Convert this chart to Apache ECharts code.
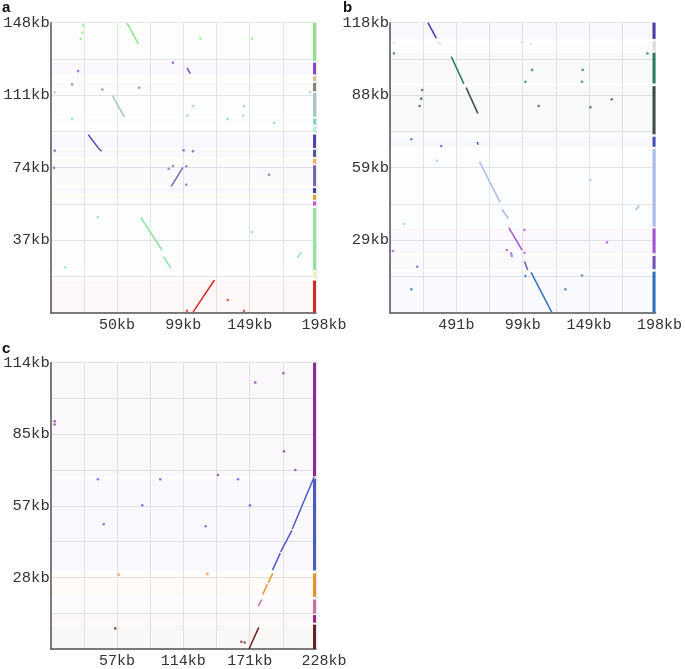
<!DOCTYPE html>
<html>
<head>
<meta charset="utf-8">
<script src="https://cdn.jsdelivr.net/npm/echarts@6/dist/echarts.min.js"></script>
<style>
html, body { margin: 0; padding: 0; background: #fff; }
#main { width: 685px; height: 669px; }
</style>
</head>
<body>
<div id="main"></div>
<script>
// ---- panel a ----
var aXMax = 198, aYMax = 148;
var aXLabels = ['50kb', '99kb', '149kb', '198kb'];
var aYLabels = ['37kb', '74kb', '111kb', '148kb'];
// query contigs on y axis [start, end] in kb, top to bottom
var aContigs = [[128.4, 148], [121.6, 127.6], [118.2, 120.7], [113, 117.3], [100, 112.2], [96, 99],
  [91.8, 95.1], [84.1, 90.9], [79.5, 83.2], [76, 78.6], [64.5, 75.2], [61.1, 63.6], [57.6, 60.2],
  [54.7, 56.8], [21.8, 53.4], [17.6, 21], [0, 16.4]];
var aColors = ['#8fe38c', '#8544c9', '#d9bf95', '#8c8275', '#abc3c9', '#84d0c6', '#bdeedc', '#5b3db5',
  '#4f5f93', '#e8b566', '#7a66b3', '#3b3db5', '#e2a33e', '#c255c6', '#90e3a0', '#eef0c2', '#d42a2a'];
// matches [x1, y1, x2, y2]
var aSegs = [[57, 147.7, 65.6, 137], [101.7, 125, 104.2, 122], [46, 110.8, 55, 100], [28, 90.9, 35.5, 84.1],
  [35.5, 84.1, 38, 82.4], [90, 64.5, 98.7, 74.2], [67.2, 48.6, 83, 32], [84.2, 28.6, 89.7, 22.7],
  [184.2, 28.1, 187.2, 30.9], [106.2, 0.3, 122.2, 16.7]];
var aDots = [[24.2, 146.5], [23.7, 142.9], [22.5, 139.8], [111.7, 140], [150.4, 139.8], [91.2, 127.6],
  [20.5, 123.3], [16, 116.5], [38.5, 113.9], [66, 114.8], [3, 112.5], [193.5, 112.5], [106.2, 105.4],
  [144.2, 105.4], [102, 100.6], [143.7, 100.6], [16, 98.9], [132, 98.9], [166.7, 96.9], [3, 82.7],
  [99.2, 82.9], [106.2, 82.4], [2.5, 73.9], [88, 73.5], [91.2, 74.9], [101.2, 74.7], [101.2, 65.3],
  [163, 70.4], [35, 48.8], [150.4, 41.1], [11, 23.2], [132.2, 6.5], [101.7, 1], [144.2, 1]];

// ---- panel b ----
var bXMax = 198, bYMax = 118;
var bXLabels = ['491b', '99kb', '149kb', '198kb'];
var bYLabels = ['29kb', '59kb', '88kb', '118kb'];
var bContigs = [[111.4, 118], [106.6, 110.5], [93.3, 105.8], [72.6, 92.2], [67.5, 71.6], [35, 66.5],
  [24.2, 34.3], [17.7, 23.1], [0, 16.7]];
var bColors = ['#4b3aa9', '#dedede', '#2c7b5c', '#3f4b4b', '#4452b3', '#aabbea', '#a452d9', '#7252b3', '#3272ba'];
var bSegs = [[28.3, 118, 34.5, 111.7], [35.2, 110.3, 38.2, 108.9], [45.7, 104.2, 55.1, 93.1],
  [56.8, 91.6, 65.5, 81.1], [65, 69.5, 65.8, 68.3], [66.8, 61.4, 82.1, 44.9], [83.6, 42, 88.3, 38.4],
  [88.6, 34.6, 98.5, 25.5], [100.3, 20.8, 102.7, 17.4], [105.2, 16.4, 120.6, 0.2], [183.3, 41.8, 185.8, 43.8]];
var bDots = [[3, 105.5], [192, 105.5], [3, 109.9], [98.5, 109.9], [105.2, 109.3], [106, 98.8], [143.7, 98.8],
  [101, 94], [143.2, 94], [24, 90.6], [23.3, 87.1], [22.1, 84.1], [110.9, 84.1], [149.4, 83.6], [165.3, 86.8],
  [15.9, 70.6], [38.2, 67.8], [35, 61.8], [149.4, 54], [10.4, 36.1], [100.3, 33.7], [161.8, 28.6],
  [2.2, 25.1], [87.1, 25.5], [90.3, 24.2], [90.8, 23.2], [100.3, 24.4], [20.3, 18.7], [143.2, 15.1],
  [101, 14.9], [15.9, 9.5], [130.8, 9.5]];

// ---- panel c ----
var cXMax = 228, cYMax = 114;
var cXLabels = ['57kb', '114kb', '171kb', '228kb'];
var cYLabels = ['28kb', '57kb', '85kb', '114kb'];
var cContigs = [[68.8, 114], [31.3, 67.7], [20.7, 30.1], [14.1, 19.7], [10.5, 13.5], [0, 9.7]];
var cColors = ['#8b2b9b', '#5159c2', '#e3922c', '#c472a3', '#a3238a', '#6b2222'];
var cSegs = [[226.5, 68.6, 207.6, 47.8], [207.3, 47.2, 197.6, 38.7], [197.3, 38.2, 190.6, 31.4],
  [190.8, 30.1, 187, 26.3], [186.2, 25.8, 182.2, 21.7], [181.3, 19.7, 178.4, 17.1], [178.8, 8.6, 170.4, 0]];
var cDots = [[199.9, 109.8], [175.8, 106.1], [3.4, 90.7], [3.4, 89.4], [200.5, 78.7], [210.2, 71.3],
  [143.8, 69.3], [40.6, 67.6], [94.2, 67.6], [161, 67.6], [78.7, 57.2], [171.3, 57.2], [45.5, 49.7],
  [133.2, 48.9], [58.4, 29.6], [134.6, 29.9], [55.5, 8.2], [163.8, 2.9], [166.7, 2.6]];

var chart = echarts.init(document.getElementById('main'), null, { renderer: 'canvas' });
var FONT = 'Liberation Mono';

// colour of the contig a y value falls in (nearest one for gaps)
function contigColor(y, contigs, colors) {
  var best = 0, bestD = Infinity;
  for (var i = 0; i < contigs.length; i++) {
    var d = y < contigs[i][0] ? contigs[i][0] - y : (y > contigs[i][1] ? y - contigs[i][1] : 0);
    if (d < bestD) { bestD = d; best = i; }
  }
  return colors[best];
}

function renderContig(params, api) {
  var cs = params.coordSys;
  var top = api.coord([0, api.value(1)])[1];
  var bot = api.coord([0, api.value(0)])[1];
  var color = api.visual('color');
  return {
    type: 'group',
    children: [
      { type: 'rect', shape: { x: cs.x, y: top, width: cs.width, height: bot - top }, style: { fill: color, opacity: 0.035 } },
      { type: 'rect', shape: { x: cs.x + cs.width - 3, y: top, width: 3, height: bot - top }, style: { fill: color } }
    ]
  };
}

var grids = [], xAxes = [], yAxes = [], series = [];

function panel(i, box, xMax, yMax, xLabels, yLabels, contigs, colors, segs, dots, lastShift) {
  grids.push({ left: box[0], top: box[1], width: box[2], height: box[3], containLabel: false });
  xAxes.push({
    type: 'value', gridIndex: i, min: 0, max: xMax, interval: xMax / 8,
    axisLine: { show: true, onZero: false, lineStyle: { color: '#555', width: 1.5 } },
    axisTick: { show: false },
    splitLine: { show: true, lineStyle: { color: '#e6e6e6', width: 1 } },
    axisLabel: {
      show: true, margin: 5, showMaxLabel: true, showMinLabel: true,
      fontFamily: FONT, fontSize: 15, color: '#333',
      formatter: function (v) {
        var q = v / (xMax / 4);
        if (q < 0.5 || Math.abs(q - Math.round(q)) > 1e-6) return '';
        q = Math.round(q);
        return q === 4 ? '{last|' + xLabels[3] + '}' : xLabels[q - 1];
      },
      rich: { last: { fontFamily: FONT, fontSize: 15, color: '#333', padding: [0, 0, 0, lastShift * 2] } }
    }
  });
  yAxes.push({
    type: 'value', gridIndex: i, min: 0, max: yMax, interval: yMax / 8,
    axisLine: { show: true, onZero: false, lineStyle: { color: '#555', width: 1.5 } },
    axisTick: { show: false },
    splitLine: { show: true, lineStyle: { color: '#e6e6e6', width: 1 } },
    axisLabel: {
      show: true, margin: 1, showMaxLabel: true,
      fontFamily: FONT, fontSize: 15.5, color: '#333',
      formatter: function (v) {
        var q = v / (yMax / 4);
        if (q < 0.5 || Math.abs(q - Math.round(q)) > 1e-6) return '';
        return yLabels[Math.round(q) - 1];
      }
    }
  });
  series.push({
    type: 'custom', xAxisIndex: i, yAxisIndex: i, silent: true, z: 1,
    renderItem: renderContig,
    data: contigs.map(function (c, k) { return { value: c, itemStyle: { color: colors[k] } }; })
  });
  series.push({
    type: 'lines', coordinateSystem: 'cartesian2d', xAxisIndex: i, yAxisIndex: i, silent: true, z: 3,
    lineStyle: { width: 1.5, opacity: 1 },
    data: segs.map(function (s) {
      return { coords: [[s[0], s[1]], [s[2], s[3]]], lineStyle: { color: contigColor((s[1] + s[3]) / 2, contigs, colors) } };
    })
  });
  series.push({
    type: 'scatter', xAxisIndex: i, yAxisIndex: i, silent: true, z: 3,
    symbolSize: 2.6,
    data: dots.map(function (d) {
      return { value: d, itemStyle: { color: contigColor(d[1], contigs, colors), opacity: 0.75 } };
    })
  });
}

panel(0, [50.7, 22.7, 265.3, 290], aXMax, aYMax, aXLabels, aYLabels, aContigs, aColors, aSegs, aDots, 8);
panel(1, [390, 22.7, 266, 290], bXMax, bYMax, bXLabels, bYLabels, bContigs, bColors, bSegs, bDots, 4);
panel(2, [50.7, 362.7, 265.3, 289], cXMax, cYMax, cXLabels, cYLabels, cContigs, cColors, cSegs, cDots, 8);

var letterStyle = { fontFamily: 'Liberation Sans', fontSize: 15, fontWeight: 'bold', fill: '#111' };
chart.setOption({
  backgroundColor: '#fff',
  animation: false,
  grid: grids,
  xAxis: xAxes,
  yAxis: yAxes,
  series: series,
  graphic: [
    { type: 'text', left: 2, top: 0, style: Object.assign({ text: 'a' }, letterStyle) },
    { type: 'text', left: 343, top: 0, style: Object.assign({ text: 'b' }, letterStyle) },
    { type: 'text', left: 2, top: 341, style: Object.assign({ text: 'c' }, letterStyle) }
  ]
});
</script>
</body>
</html>
